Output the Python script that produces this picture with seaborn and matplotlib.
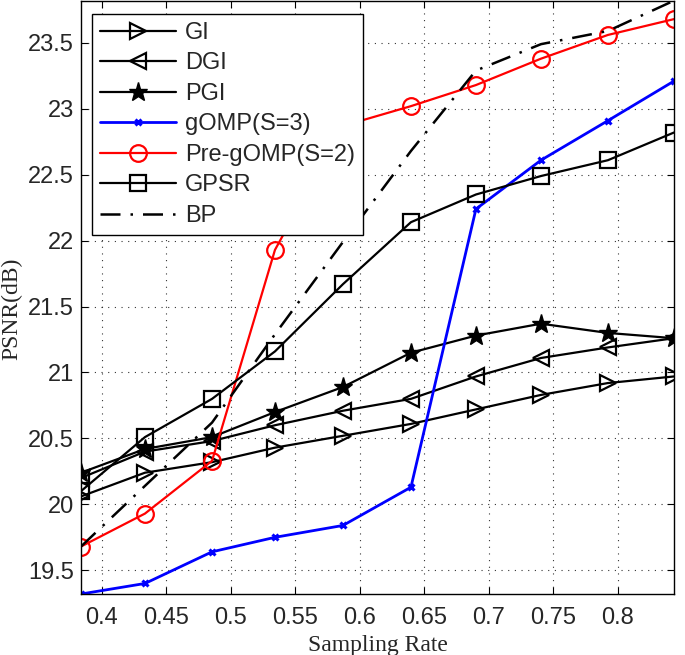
# PSNR vs sampling rate comparison chart

import matplotlib
matplotlib.use('Agg')
import matplotlib.pyplot as plt
import matplotlib.ticker as mtick
import seaborn as sns

# Sampling rates (x axis)
rates = [0.3837, 0.4333, 0.4853, 0.5341, 0.5868, 0.6395, 0.6899, 0.7403, 0.7922, 0.8434]

# PSNR values (dB) per method
gi = [20.06, 20.24, 20.32, 20.43, 20.52, 20.61, 20.72, 20.83, 20.92, 20.97]
dgi = [20.20, 20.40, 20.48, 20.60, 20.71, 20.80, 20.97, 21.11, 21.19, 21.26]
pgi = [20.24, 20.42, 20.51, 20.70, 20.89, 21.15, 21.28, 21.37, 21.30, 21.26]
gomp = [19.32, 19.40, 19.64, 19.75, 19.84, 20.13, 22.24, 22.61, 22.91, 23.21]
pre_gomp = [19.68, 19.93, 20.33, 21.93, 22.87, 23.02, 23.18, 23.38, 23.56, 23.68]
gpsr = [20.10, 20.51, 20.80, 21.16, 21.67, 22.14, 22.35, 22.49, 22.61, 22.82]
bp = [19.68, 20.14, 20.62, 21.29, 21.99, 22.68, 23.29, 23.49, 23.59, 23.82]

x_ticks = [0.4, 0.45, 0.5, 0.55, 0.6, 0.65, 0.7, 0.75, 0.8]
y_ticks = [19.5, 20, 20.5, 21, 21.5, 22, 22.5, 23, 23.5]

sns.set_style('white')
plt.rcParams['font.family'] = ['Liberation Sans', 'DejaVu Sans']

fig = plt.figure(figsize=(6.85, 6.55), dpi=100)
ax = fig.add_axes([0.1182, 0.0931, 0.8657, 0.9059])

# One call per series, styled like the MATLAB original
sns.lineplot(x=rates, y=gi, ax=ax, color='black', lw=1.6, marker='>', markersize=12,
             markerfacecolor='none', markeredgecolor='black', markeredgewidth=1.6, label='GI')
sns.lineplot(x=rates, y=dgi, ax=ax, color='black', lw=1.6, marker='<', markersize=12,
             markerfacecolor='none', markeredgecolor='black', markeredgewidth=1.6, label='DGI')
sns.lineplot(x=rates, y=pgi, ax=ax, color='black', lw=1.6, marker='*', markersize=14,
             markerfacecolor='black', markeredgecolor='black', markeredgewidth=1.0, label='PGI')
sns.lineplot(x=rates, y=gomp, ax=ax, color='blue', lw=2.0, marker='x', markersize=5,
             markeredgecolor='blue', markeredgewidth=2.2, label='gOMP(S=3)')
sns.lineplot(x=rates, y=pre_gomp, ax=ax, color='red', lw=1.6, marker='o', markersize=12,
             markerfacecolor='none', markeredgecolor='red', markeredgewidth=1.6, label='Pre-gOMP(S=2)')
sns.lineplot(x=rates, y=gpsr, ax=ax, color='black', lw=1.6, marker='s', markersize=11,
             markerfacecolor='none', markeredgecolor='black', markeredgewidth=1.6, label='GPSR')
sns.lineplot(x=rates, y=bp, ax=ax, color='black', lw=1.8, linestyle=(0, (8, 4, 1, 4)), label='BP')

# Tight axes like MATLAB "axis tight"
all_vals = gi + dgi + pgi + gomp + pre_gomp + gpsr + bp
ax.set_xlim(min(rates), max(rates))
ax.set_ylim(min(all_vals), max(all_vals))

ax.set_xticks(x_ticks)
ax.set_yticks(y_ticks)
ax.xaxis.set_major_formatter(mtick.FuncFormatter(lambda v, p: f"{v:g}"))
ax.yaxis.set_major_formatter(mtick.FuncFormatter(lambda v, p: f"{v:g}"))
ax.tick_params(direction='in', length=5, width=0.8, labelsize=17, color='black',
               top=True, right=True, bottom=True, left=True)
ax.tick_params(axis='x', pad=9)
ax.tick_params(axis='y', pad=5)

ax.grid(True, color='black', linestyle=(0, (1, 5)), linewidth=0.8, alpha=0.8)
for sp in ax.spines.values():
    sp.set_color('black')
    sp.set_linewidth(1.0)

ax.set_xlabel('Sampling Rate', fontsize=17, family=['Liberation Serif'], labelpad=5)
ax.set_ylabel('PSNR(dB)', fontsize=17, family=['Liberation Serif'])
ax.yaxis.set_label_coords(-0.098, 0.48)

leg = ax.legend(loc='upper left', bbox_to_anchor=(0.0185, 0.978), borderaxespad=0,
                fontsize=17, handlelength=3.2, handletextpad=0.4, labelspacing=0.36,
                fancybox=False, framealpha=1, edgecolor='black', borderpad=0.35)
leg.get_frame().set_linewidth(1.0)

plt.savefig('out.png', dpi=100)
plt.close()
